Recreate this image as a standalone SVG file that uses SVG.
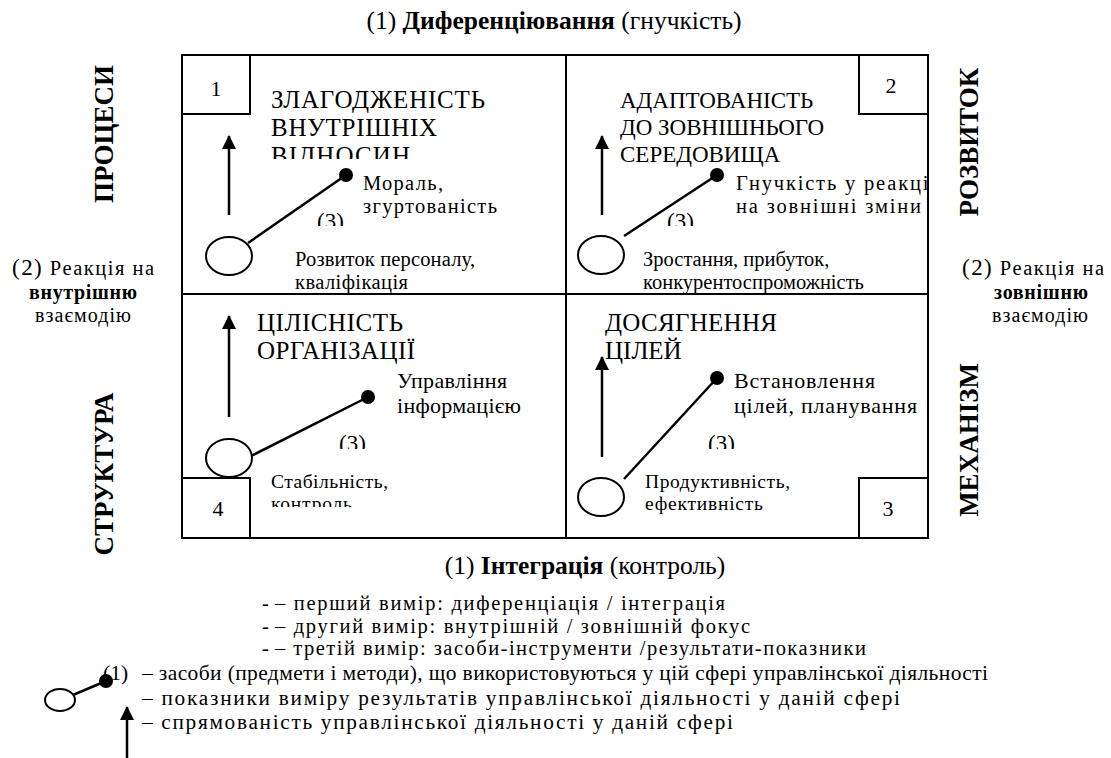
<svg xmlns="http://www.w3.org/2000/svg" width="1111" height="758" viewBox="0 0 1111 758">
<style>
text{font-family:"Liberation Serif","Times New Roman",serif;fill:#000}
.t{font-size:25.5px}
.b{font-weight:bold}
.v{font-size:27px;font-weight:bold}
.n{font-size:22px}
.fr{fill:none;stroke:#000;stroke-width:2}
.ln{stroke:#000;stroke-width:2.5;fill:none}
.el{fill:#fff;stroke:#000;stroke-width:2}
.dot{fill:#000}
.k{font-size:23px}
</style>
<defs>
<marker id="ah" viewBox="0 0 14 14" refX="13" refY="7" markerUnits="userSpaceOnUse" markerWidth="14" markerHeight="14" orient="auto">
<path d="M0,0 L14,7 L0,14 z" fill="#000"/>
</marker>
<clipPath id="c1"><rect x="250" y="60" width="310" height="99"/></clipPath>
<clipPath id="c1b"><rect x="250" y="240" width="310" height="53"/></clipPath>
<clipPath id="c1c"><rect x="250" y="200" width="600" height="26"/></clipPath>
<clipPath id="c2b"><rect x="620" y="240" width="306" height="53"/></clipPath>
<clipPath id="c2a"><rect x="620" y="165" width="307" height="60"/></clipPath>
<clipPath id="c3c"><rect x="250" y="420" width="600" height="29"/></clipPath>
<clipPath id="c4b"><rect x="250" y="470" width="300" height="37"/></clipPath>
</defs>

<g id="frame">
<rect class="fr" x="182" y="55" width="746" height="483"/>
<line class="fr" x1="566" y1="55" x2="566" y2="538"/>
<line class="fr" x1="182" y1="294" x2="928" y2="294"/>
</g>

<g id="axis-labels">
<text class="t" x="554" y="29" text-anchor="middle">(1) <tspan class="b">Диференціювання</tspan> (гнучкість)</text>
<text class="t" x="585" y="574" font-size="26.5" text-anchor="middle">(1) <tspan class="b">Інтеграція</tspan> (контроль)</text>
<text class="v" transform="translate(113,134) rotate(-90)" text-anchor="middle">ПРОЦЕСИ</text>
<text class="v" transform="translate(113,474) rotate(-90)" text-anchor="middle">СТРУКТУРА</text>
<text class="v" transform="translate(978,142) rotate(-90)" text-anchor="middle">РОЗВИТОК</text>
<text class="v" transform="translate(978,440) rotate(-90)" text-anchor="middle">МЕХАНІЗМ</text>
<g text-anchor="middle">
<text x="83" y="275" font-size="20.5" textLength="142"><tspan font-size="23">(2)</tspan> Реакція на</text>
<text class="b" x="83" y="299" font-size="20" textLength="108">внутрішню</text>
<text x="83" y="322" font-size="20" textLength="96">взаємодію</text>
<text x="1033" y="275" font-size="20.5" textLength="142"><tspan font-size="23">(2)</tspan> Реакція на</text>
<text class="b" x="1041" y="299" font-size="20" textLength="94">зовнішню</text>
<text x="1040" y="322" font-size="20" textLength="96">взаємодію</text>
</g>
</g>

<g id="q1">
<rect class="fr" x="182" y="55" width="68" height="59"/>
<text class="n" x="216" y="96" text-anchor="middle">1</text>
<g clip-path="url(#c1)" font-size="25">
<text x="271" y="108" textLength="214">ЗЛАГОДЖЕНІСТЬ</text>
<text x="271" y="136" textLength="166">ВНУТРІШНІХ</text>
<text x="271" y="164" textLength="139">ВІДНОСИН</text>
</g>
<g font-size="20.5">
<text x="363" y="190" textLength="80">Мораль,</text>
<text x="363" y="213" textLength="134">згуртованість</text>
</g>
<text class="k" x="317" y="229" clip-path="url(#c1c)">(3)</text>
<g clip-path="url(#c1b)" font-size="20.5">
<text x="295" y="266" textLength="180">Розвиток персоналу,</text>
<text x="295" y="289" textLength="113">кваліфікація</text>
</g>
</g>

<g id="q2">
<rect class="fr" x="859" y="55" width="69" height="59"/>
<text class="n" x="891" y="93" text-anchor="middle">2</text>
<g font-size="23">
<text x="620" y="108">АДАПТОВАНІСТЬ</text>
<text x="620" y="135">ДО ЗОВНІШНЬОГО</text>
<text x="620" y="162">СЕРЕДОВИЩА</text>
</g>
<g clip-path="url(#c2a)" font-size="20.5">
<text x="736" y="190" textLength="200">Гнучкість у реакції</text>
<text x="736" y="213" textLength="185">на зовнішні зміни</text>
</g>
<text class="k" x="667" y="229" clip-path="url(#c1c)">(3)</text>
<g clip-path="url(#c2b)" font-size="20.5">
<text x="643" y="266">Зростання, прибуток,</text>
<text x="643" y="289">конкурентоспроможність</text>
</g>
</g>

<g id="q3">
<rect class="fr" x="859" y="478" width="69" height="60"/>
<text class="n" x="888" y="516" text-anchor="middle">3</text>
<g font-size="25">
<text x="605" y="331" textLength="172">ДОСЯГНЕННЯ</text>
<text x="605" y="359">ЦІЛЕЙ</text>
</g>
<g font-size="22">
<text x="734" y="388" textLength="141">Встановлення</text>
<text x="734" y="413" textLength="183">цілей, планування</text>
</g>
<text class="k" x="708" y="451" clip-path="url(#c3c)">(3)</text>
<g font-size="19.5">
<text x="645" y="488" textLength="145">Продуктивність,</text>
<text x="645" y="510" textLength="118">ефективність</text>
</g>
</g>

<g id="q4">
<rect class="fr" x="182" y="478" width="68" height="60"/>
<text class="n" x="218" y="516" text-anchor="middle">4</text>
<g font-size="25">
<text x="257" y="331" textLength="146">ЦІЛІСНІСТЬ</text>
<text x="257" y="359" textLength="158">ОРГАНІЗАЦІЇ</text>
</g>
<g font-size="22">
<text x="397" y="388" textLength="110">Управління</text>
<text x="397" y="413" textLength="124">інформацією</text>
</g>
<text class="k" x="339" y="451" clip-path="url(#c3c)">(3)</text>
<g clip-path="url(#c4b)" font-size="19.5">
<text x="271" y="488" textLength="117">Стабільність,</text>
<text x="271" y="510" textLength="81">контроль</text>
</g>
</g>

<g id="connectors">
<line class="ln" x1="229" y1="215" x2="229" y2="136" marker-end="url(#ah)"/>
<line class="ln" x1="248" y1="243" x2="346" y2="175"/>
<ellipse class="el" cx="229" cy="256" rx="23" ry="19"/>
<circle class="dot" cx="346" cy="175" r="7"/>

<line class="ln" x1="602" y1="215" x2="602" y2="136" marker-end="url(#ah)"/>
<line class="ln" x1="624" y1="236" x2="717" y2="175"/>
<ellipse class="el" cx="601" cy="255" rx="23" ry="19"/>
<circle class="dot" cx="717" cy="175" r="7"/>

<line class="ln" x1="229" y1="417" x2="229" y2="316" marker-end="url(#ah)"/>
<line class="ln" x1="251" y1="456" x2="368" y2="397"/>
<ellipse class="el" cx="229" cy="458" rx="23" ry="19"/>
<circle class="dot" cx="368" cy="397" r="7"/>

<line class="ln" x1="602" y1="457" x2="602" y2="357" marker-end="url(#ah)"/>
<line class="ln" x1="624" y1="479" x2="717" y2="378"/>
<ellipse class="el" cx="601" cy="497" rx="23" ry="19"/>
<circle class="dot" cx="717" cy="378" r="7"/>
</g>

<g id="legend">
<g font-size="20.5">
<text x="262" y="610">-</text>
<text x="275" y="610" textLength="450">– перший вимір: диференціація / інтеграція</text>
<text x="262" y="633">-</text>
<text x="275" y="633" textLength="475">– другий вимір: внутрішній / зовнішній фокус</text>
<text x="262" y="655">-</text>
<text x="275" y="655" textLength="591">– третій вимір: засоби-інструменти /результати-показники</text>
</g>
<line class="ln" x1="73" y1="695" x2="106" y2="681"/>
<ellipse class="el" cx="60" cy="700" rx="15" ry="11"/>
<circle class="dot" cx="106" cy="681" r="7"/>
<g font-size="21.5">
<text x="103" y="680">(1)</text>
<text x="142" y="680" textLength="846">– засоби (предмети і методи), що використовуються у цій сфері управлінської діяльності</text>
</g>
<g font-size="21.3">
<text x="142" y="705" textLength="758">– показники виміру результатів управлінської діяльності у даній сфері</text>
<text x="142" y="729" textLength="591">– спрямованість управлінської діяльності у даній сфері</text>
</g>
<line class="ln" x1="127" y1="758" x2="127" y2="707" marker-end="url(#ah)"/>
</g>
</svg>
